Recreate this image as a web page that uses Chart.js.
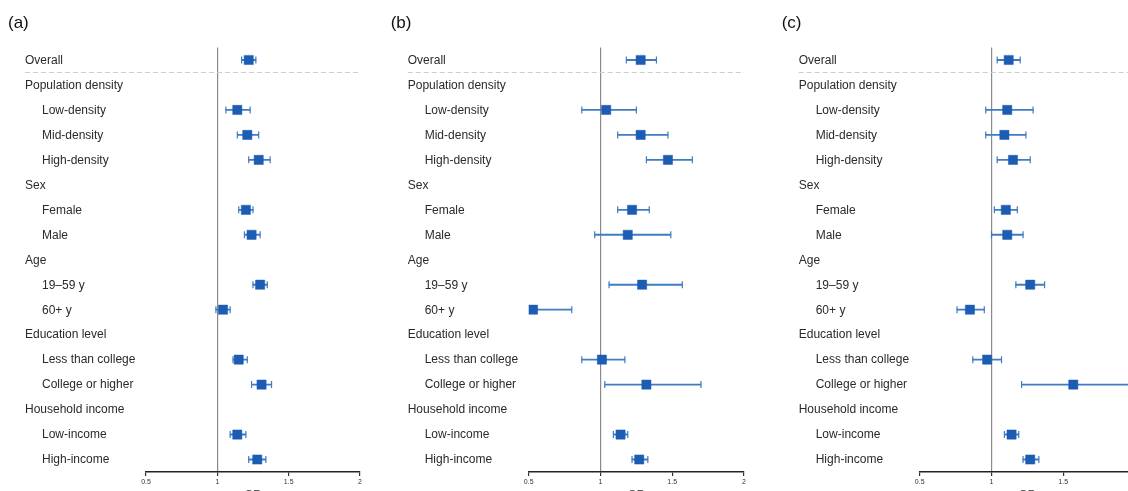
<!DOCTYPE html>
<html>
<head>
<meta charset="utf-8">
<script src="https://cdn.jsdelivr.net/npm/chart.js@4.4.1/dist/chart.umd.min.js"></script>
<style>
  html, body { margin: 0; padding: 0; background: #fff; }
  body { width: 1128px; height: 491px; overflow: hidden; position: relative; }
  .panel { position: absolute; top: 0; height: 510px; overflow: hidden; }
  .panel div { position: relative; height: 510px; }
</style>
</head>
<body>
<div class="panel" style="left:0; width:362px;"><div style="width:370px;"><canvas id="chart_a"></canvas></div></div>
<div class="panel" style="left:380px; width:374px;"><div style="width:374px;"><canvas id="chart_b"></canvas></div></div>
<div class="panel" style="left:760px; width:385px;"><div style="width:385px;"><canvas id="chart_c"></canvas></div></div>

<script>
var labels = ["Overall", "Population density", "Low-density", "Mid-density", "High-density",
  "Sex", "Female", "Male", "Age", "19–59 y", "60+ y", "Education level",
  "Less than college", "College or higher", "Household income", "Low-income", "High-income"];
// 1 = subgroup row (indented), 0 = heading row
var isSub = [0, 0, 1, 1, 1, 0, 1, 1, 0, 1, 1, 0, 1, 1, 0, 1, 1];

var xMin = 0.5, xMax = 2, xStep = 0.5;

// (a)
var or_a = [1.22, null, 1.14, 1.21, 1.29, null, 1.20, 1.24, null, 1.30, 1.04, null, 1.15, 1.31, null, 1.14, 1.28];
var lo_a = [1.17, null, 1.06, 1.14, 1.22, null, 1.15, 1.19, null, 1.25, 0.99, null, 1.11, 1.24, null, 1.09, 1.22];
var hi_a = [1.27, null, 1.23, 1.29, 1.37, null, 1.25, 1.30, null, 1.35, 1.09, null, 1.21, 1.38, null, 1.20, 1.34];

// (b)
var or_b = [1.28, null, 1.04, 1.28, 1.47, null, 1.22, 1.19, null, 1.29, 0.53, null, 1.01, 1.32, null, 1.14, 1.27];
var lo_b = [1.18, null, 0.87, 1.12, 1.32, null, 1.12, 0.96, null, 1.06, 0.51, null, 0.87, 1.03, null, 1.09, 1.22];
var hi_b = [1.39, null, 1.25, 1.47, 1.64, null, 1.34, 1.49, null, 1.57, 0.80, null, 1.17, 1.70, null, 1.19, 1.33];

// (c)
var or_c = [1.12, null, 1.11, 1.09, 1.15, null, 1.10, 1.11, null, 1.27, 0.85, null, 0.97, 1.57, null, 1.14, 1.27];
var lo_c = [1.04, null, 0.96, 0.96, 1.04, null, 1.02, 1.00, null, 1.17, 0.76, null, 0.87, 1.21, null, 1.09, 1.22];
var hi_c = [1.20, null, 1.29, 1.24, 1.27, null, 1.18, 1.22, null, 1.37, 0.95, null, 1.07, 2.30, null, 1.19, 1.33];

var lineBlue = "#3f7cc2";
var boxBlue = "#1c5cb3";

// row labels, dashed separator and panel letter
var rowLabels = {
  id: 'rowLabels',
  beforeDatasetsDraw: function(chart) {
    var ctx = chart.ctx, y = chart.scales.y, area = chart.chartArea;
    var yy = (y.getPixelForValue(0) + y.getPixelForValue(1)) / 2;
    ctx.save();
    ctx.strokeStyle = '#cccccc';
    ctx.lineWidth = 1;
    ctx.setLineDash([5, 3]);
    ctx.beginPath();
    ctx.moveTo(area.left - 121, yy);
    ctx.lineTo(area.right, yy);
    ctx.stroke();
    ctx.restore();
  },
  afterDraw: function(chart, args, opts) {
    var ctx = chart.ctx, y = chart.scales.y, area = chart.chartArea;
    ctx.save();
    ctx.font = '12px Arial, "Liberation Sans", sans-serif';
    ctx.fillStyle = '#2a2a2a';
    ctx.textBaseline = 'middle';
    for (var i = 0; i < labels.length; i++) {
      ctx.fillText(labels[i], area.left - (isSub[i] ? 104 : 121), y.getPixelForValue(i) + 0.5);
    }
    ctx.font = '17px Arial, "Liberation Sans", sans-serif';
    ctx.fillStyle = '#111';
    ctx.textBaseline = 'alphabetic';
    ctx.fillText(opts.letter, area.left - 138, 28);
    ctx.restore();
  }
};

function points(vals) {
  var out = [];
  for (var i = 0; i < vals.length; i++) {
    if (vals[i] != null) out.push({x: vals[i], y: labels[i]});
  }
  return out;
}

function makeChart(id, letter, or, lo, hi, padLeft) {
  var ctx = document.getElementById(id).getContext('2d');
  var ci = [];
  for (var i = 0; i < lo.length; i++) ci.push(lo[i] == null ? null : [lo[i], hi[i]]);
  return new Chart(ctx, {
    type: 'bar',
    data: {
      labels: labels,
      datasets: [{
        type: 'bar',
        indexAxis: 'y',
        data: ci,
        backgroundColor: lineBlue,
        borderWidth: 0,
        barThickness: 1.2,
        order: 3
      }, {
        type: 'scatter',
        data: points(lo),
        pointStyle: 'line',
        rotation: 90,
        radius: 3.5,
        borderColor: lineBlue,
        borderWidth: 1.2,
        order: 2
      }, {
        type: 'scatter',
        data: points(hi),
        pointStyle: 'line',
        rotation: 90,
        radius: 3.5,
        borderColor: lineBlue,
        borderWidth: 1.2,
        order: 2
      }, {
        type: 'scatter',
        data: points(or),
        pointStyle: 'rect',
        radius: 6.5,
        backgroundColor: boxBlue,
        borderColor: boxBlue,
        borderWidth: 0.5,
        order: 1
      }]
    },
    options: {
      responsive: true,
      maintainAspectRatio: false,
      animation: false,
      events: [],
      layout: { padding: { left: padLeft, right: 10, top: 47.5, bottom: 8.4 } },
      plugins: {
        legend: { display: false },
        tooltip: { enabled: false },
        rowLabels: { letter: letter }
      },
      scales: {
        y: {
          type: 'category',
          labels: labels,
          offset: true,
          display: false
        },
        x: {
          type: 'linear',
          min: xMin,
          max: xMax,
          offset: false,
          ticks: {
            stepSize: xStep,
            font: { size: 7, family: 'Arial, "Liberation Sans", sans-serif' },
            color: '#333',
            padding: 2,
            maxRotation: 0,
            autoSkip: false,
            callback: function(v) { return String(v); }
          },
          grid: {
            offset: false,
            color: function(c) { return c.tick && c.tick.value === 1 ? '#8a8a8a' : 'rgba(0,0,0,0)'; },
            lineWidth: 1.2,
            tickColor: '#333',
            tickWidth: 1.2,
            tickLength: 4
          },
          border: { display: true, color: '#222', width: 1.5 },
          title: {
            display: true,
            text: 'OR',
            color: '#333',
            font: { size: 11, family: 'Arial, "Liberation Sans", sans-serif' },
            padding: { top: 0, bottom: 0 }
          }
        }
      }
    },
    plugins: [rowLabels]
  });
}

var chart_a = makeChart("chart_a", "(a)", or_a, lo_a, hi_a, 146);
var chart_b = makeChart("chart_b", "(b)", or_b, lo_b, hi_b, 148.7);
var chart_c = makeChart("chart_c", "(c)", or_c, lo_c, hi_c, 159.7);
</script>
</body>
</html>
